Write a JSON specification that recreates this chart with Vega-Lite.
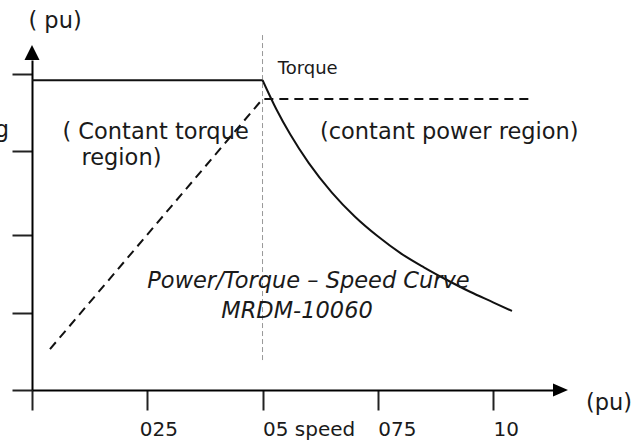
{
  "$schema": "https://vega.github.io/schema/vega-lite/v6.json",
  "width": 521,
  "height": 330,
  "autosize": {"type": "none"},
  "padding": {"left": 32, "top": 60, "right": 91, "bottom": 51},
  "background": "white",
  "config": {"view": {"stroke": null}, "font": "DejaVu Sans"},
  "datasets": {
    "torque_flat": [{"x": 0, "y": 1.0}, {"x": 0.5, "y": 1.0}],
    "torque_curve": [
      {"x": 0.5, "y": 1.0}, {"x": 0.53, "y": 0.906}, {"x": 0.56, "y": 0.825},
      {"x": 0.6, "y": 0.733}, {"x": 0.65, "y": 0.638}, {"x": 0.7, "y": 0.56},
      {"x": 0.75, "y": 0.496}, {"x": 0.8, "y": 0.441}, {"x": 0.85, "y": 0.396},
      {"x": 0.9, "y": 0.355}, {"x": 0.95, "y": 0.317}, {"x": 1.0, "y": 0.283},
      {"x": 1.041, "y": 0.255}
    ],
    "power": [{"x": 0.039, "y": 0.132}, {"x": 0.5, "y": 0.939}, {"x": 1.085, "y": 0.939}],
    "divider": [{"x": 0.5, "y": 1.1455, "y2": 0.0904}],
    "arrow_y": [{"x": 0, "y": 1.089}],
    "arrow_x": [{"x": 1.1463, "y": 0}],
    "labels_main": [
      {"x": 0.268, "y": 0.81, "label": "( Contant torque"},
      {"x": 0.194, "y": 0.726, "label": "region)"},
      {"x": 0.905, "y": 0.81, "label": "(contant power region)"},
      {"x": 0.05, "y": 1.168, "label": "( pu)"},
      {"x": 1.2515, "y": -0.0645, "label": "(pu)"}
    ],
    "labels_cut": [{"x": -0.05, "y": 0.816, "label": "g"}],
    "labels_small": [{"x": 0.598, "y": 1.02, "label": "Torque"}],
    "labels_italic": [
      {"x": 0.5997, "y": 0.329, "label": "Power/Torque – Speed  Curve"},
      {"x": 0.5748, "y": 0.232, "label": "MRDM-10060"}
    ]
  },
  "encoding": {
    "x": {
      "field": "x", "type": "quantitative",
      "scale": {"domain": [0, 1.13], "nice": false, "zero": false},
      "axis": {
        "title": null, "grid": false, "values": [0, 0.25, 0.5, 0.75, 1],
        "domainColor": "#000", "domainWidth": 2,
        "tickColor": "#222", "tickWidth": 2, "tickSize": 20,
        "labelExpr": "datum.value == 0.25 ? '025' : datum.value == 0.5 ? '05 speed' : datum.value == 0.75 ? '075' : datum.value == 1 ? '10' : ''",
        "labelAlign": "left", "labelBaseline": "alphabetic", "labelPadding": 25,
        "labelFontSize": 20, "labelColor": "#1a1a1a", "labelFont": "DejaVu Sans",
        "labelOverlap": false, "labelFlush": false, "labelBound": false,
        "labelOffset": {"condition": {"test": "datum.value == 0.25", "value": -8}, "value": 0}
      }
    },
    "y": {
      "field": "y", "type": "quantitative",
      "scale": {"domain": [0, 1.065], "nice": false, "zero": false},
      "axis": {
        "title": null, "grid": false, "labels": false, "values": [0, 0.25, 0.5, 0.77, 1.02],
        "domainColor": "#000", "domainWidth": 2,
        "tickColor": "#222", "tickWidth": 2, "tickSize": 20
      }
    }
  },
  "layer": [
    {
      "data": {"name": "divider"},
      "mark": {"type": "rule", "color": "#999", "strokeWidth": 1, "strokeDash": [5, 3]},
      "encoding": {"y2": {"field": "y2"}}
    },
    {
      "data": {"name": "torque_flat"},
      "mark": {"type": "line", "color": "#111", "strokeWidth": 2}
    },
    {
      "data": {"name": "torque_curve"},
      "mark": {"type": "line", "color": "#111", "strokeWidth": 2, "interpolate": "monotone"}
    },
    {
      "data": {"name": "power"},
      "mark": {"type": "line", "color": "#111", "strokeWidth": 2, "strokeDash": [9, 6]}
    },
    {
      "data": {"name": "arrow_y"},
      "mark": {"type": "point", "shape": "M0,-1L1,1L-1,1Z", "size": 225, "filled": true, "color": "#000", "opacity": 1}
    },
    {
      "data": {"name": "arrow_x"},
      "mark": {"type": "point", "shape": "M-1,-0.87L1,0L-1,0.87Z", "size": 225, "filled": true, "color": "#000", "opacity": 1}
    },
    {
      "data": {"name": "labels_main"},
      "mark": {"type": "text", "fontSize": 22.5, "font": "DejaVu Sans", "color": "#1a1a1a", "align": "center", "baseline": "alphabetic"},
      "encoding": {"text": {"field": "label"}}
    },
    {
      "data": {"name": "labels_cut"},
      "mark": {"type": "text", "fontSize": 22.5, "font": "DejaVu Sans", "color": "#1a1a1a", "align": "right", "baseline": "alphabetic"},
      "encoding": {"text": {"field": "label"}}
    },
    {
      "data": {"name": "labels_small"},
      "mark": {"type": "text", "fontSize": 18, "font": "DejaVu Sans", "color": "#1a1a1a", "align": "center", "baseline": "alphabetic"},
      "encoding": {"text": {"field": "label"}}
    },
    {
      "data": {"name": "labels_italic"},
      "mark": {"type": "text", "fontSize": 22.5, "font": "DejaVu Sans", "fontStyle": "italic", "color": "#1a1a1a", "align": "center", "baseline": "alphabetic"},
      "encoding": {"text": {"field": "label"}}
    }
  ]
}
